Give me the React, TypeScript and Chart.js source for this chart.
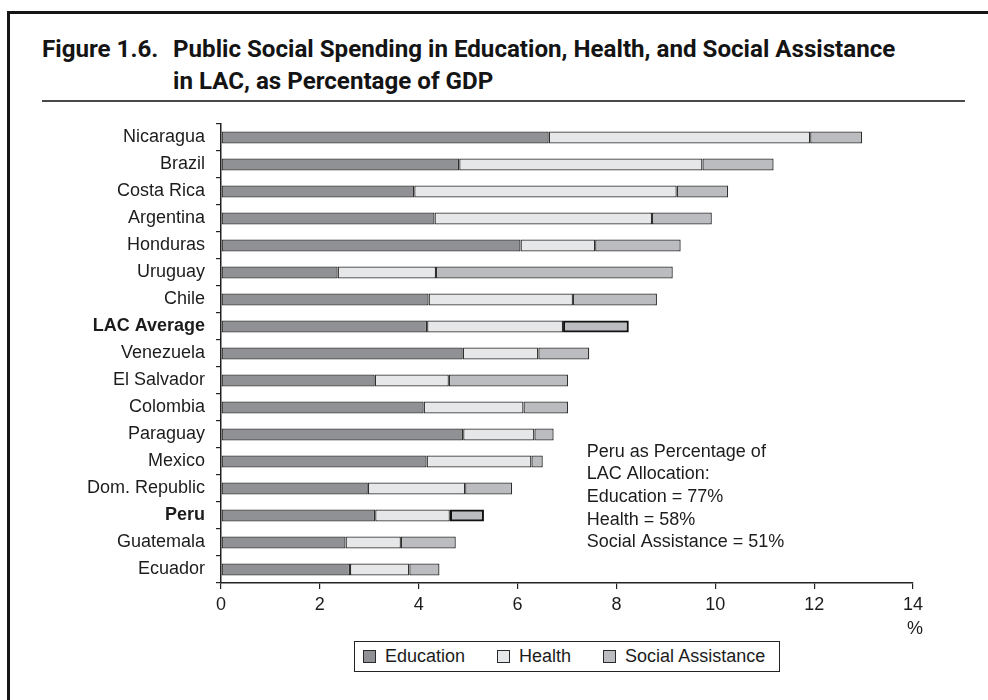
import React, { useEffect, useLayoutEffect, useRef } from "react";
import { Chart, registerables } from "chart.js";

Chart.register(...registerables);

// ---- data ----
const categories = [
  "Nicaragua", "Brazil", "Costa Rica", "Argentina", "Honduras", "Uruguay", "Chile",
  "LAC Average", "Venezuela", "El Salvador", "Colombia", "Paraguay", "Mexico",
  "Dom. Republic", "Peru", "Guatemala", "Ecuador",
];
const education = [6.63, 4.82, 3.91, 4.32, 6.06, 2.36, 4.2, 4.17, 4.89, 3.11, 4.1, 4.9, 4.16, 2.97, 3.12, 2.52, 2.61];
const health = [5.29, 4.92, 5.31, 4.4, 1.51, 1.99, 2.92, 2.75, 1.53, 1.5, 2.02, 1.44, 2.12, 1.97, 1.51, 1.12, 1.2];
const socialAssistance = [1.05, 1.44, 1.04, 1.21, 1.73, 4.79, 1.7, 1.33, 1.03, 2.41, 0.9, 0.39, 0.23, 0.95, 0.69, 1.11, 0.61];
const seriesNames = ["Education", "Health", "Social Assistance"];
const xTicks = [0, 2, 4, 6, 8, 10, 12, 14];
const boldCategories = ["LAC Average", "Peru"];
const noteLines = [
  "Peru as Percentage of",
  "LAC Allocation:",
  "Education = 77%",
  "Health = 58%",
  "Social Assistance = 51%",
];
const titleNumber = "Figure 1.6.";
const titleLine1 = "Public Social Spending in Education, Health, and Social Assistance";
const titleLine2 = "in LAC, as Percentage of GDP";
const unitLabel = "%";

// ---- styles ----
const seriesColors = ["#909194", "#e6e7e8", "#bbbcbf"];
const ink = "#1c1c1c";
const FONT = "'Liberation Sans', Arial, Helvetica, sans-serif";
const TITLE_FONT = "Roboto, 'Liberation Sans', sans-serif";

const overlayPlugin = {
  id: "overlayText",
  afterDraw(chart: any) {
    const ctx = chart.ctx;
    const xs = chart.scales.x;
    const area = chart.chartArea;
    ctx.save();
    ctx.fillStyle = ink;
    ctx.font = `18px ${FONT}`;
    ctx.textBaseline = "middle";
    ctx.textAlign = "left";
    const x0 = xs.getPixelForValue(7.4);
    noteLines.forEach((line, i) => {
      ctx.fillText(line, x0, area.top + 327.7 + i * 22.65);
    });
    ctx.textAlign = "center";
    ctx.fillText(unitLabel, xs.getPixelForValue(14) + 2, area.bottom + 46);
    ctx.restore();
  },
};

function ChartBox() {
  const ref = useRef<HTMLCanvasElement | null>(null);
  useEffect(() => {
    if (!ref.current) return;
    const isBold = (i: number) => boldCategories.includes(categories[i]);
    const seriesData = [education, health, socialAssistance];
    const chart = new Chart(ref.current, {
      type: "bar",
      data: {
        labels: categories,
        datasets: seriesData.map((d, k) => ({
          label: seriesNames[k],
          data: d,
          backgroundColor: seriesColors[k],
          borderColor: (c: any) => (isBold(c.dataIndex) && k === 2 ? "#111" : "#2e2e2e"),
          borderWidth: (c: any) => (isBold(c.dataIndex) && k === 2 ? 2.2 : 1.3),
          borderSkipped: false,
          barPercentage: 0.44,
          categoryPercentage: 1,
        })),
      },
      options: {
        indexAxis: "y",
        animation: false,
        responsive: false,
        maintainAspectRatio: false,
        devicePixelRatio: 1,
        layout: { padding: { left: 0, right: 75, top: 24, bottom: 0 } },
        plugins: {
          legend: { display: false },
          tooltip: { enabled: false },
          title: { display: false },
        },
        scales: {
          x: {
            stacked: true,
            min: 0,
            max: 14,
            afterBuildTicks: (s: any) => {
              s.ticks = xTicks.map((v) => ({ value: v }));
            },
            ticks: { font: { family: FONT, size: 18 }, color: ink, padding: 5, maxRotation: 0 },
            grid: { drawOnChartArea: false, drawTicks: true, tickLength: 6, color: "#222", lineWidth: 1.2 },
            border: { display: true, color: "#222", width: 1.5 },
            afterFit: (s: any) => {
              s.height = 57;
            },
          },
          y: {
            stacked: true,
            ticks: {
              font: (c: any) => ({
                family: FONT,
                size: 18,
                weight: isBold(c.index) ? "bold" : "normal",
              }),
              color: ink,
              padding: 11,
              autoSkip: false,
            },
            grid: { offset: true, drawOnChartArea: false, drawTicks: true, tickLength: 5, color: "#222", lineWidth: 1.2 },
            border: { display: true, color: "#222", width: 1.5 },
            afterFit: (s: any) => {
              s.width = 221;
            },
          },
        },
      } as any,
      plugins: [overlayPlugin],
    });
    return () => chart.destroy();
  }, []);
  return (
    <canvas
      ref={ref}
      width={988}
      height={540}
      style={{ position: "absolute", left: 0, top: 100, width: 988, height: 540 }}
    />
  );
}

export default function App() {
  const l1 = useRef<HTMLSpanElement | null>(null);
  const l0 = useRef<HTMLSpanElement | null>(null);
  const l2 = useRef<HTMLSpanElement | null>(null);
  useLayoutEffect(() => {
    if (!l1.current) return;
    const w = l1.current.offsetWidth;
    const k = 722 / w;
    [l0.current, l1.current, l2.current].forEach((el) => {
      if (el) el.style.transform = `scaleX(${k})`;
    });
  }, []);
  const titleSpan: React.CSSProperties = {
    position: "absolute",
    whiteSpace: "nowrap",
    display: "inline-block",
    transformOrigin: "left center",
    fontFamily: TITLE_FONT,
    fontWeight: 700,
    fontSize: 24,
    lineHeight: "32px",
    color: "#141414",
  };
  return (
    <div
      style={{
        position: "fixed",
        left: 0,
        top: 0,
        width: 988,
        height: 700,
        overflow: "hidden",
        background: "#fff",
      }}
    >
      {/* frame: top and left edges */}
      <div style={{ position: "absolute", left: 7, top: 11, width: 981, height: 2.5, background: "#151515" }} />
      <div style={{ position: "absolute", left: 7, top: 11, width: 2.5, height: 689, background: "#151515" }} />
      <span ref={l0} style={{ ...titleSpan, left: 42, top: 33 }}>
        {titleNumber}
      </span>
      <span ref={l1} style={{ ...titleSpan, left: 173, top: 33 }}>
        {titleLine1}
      </span>
      <span ref={l2} style={{ ...titleSpan, left: 173, top: 65 }}>
        {titleLine2}
      </span>
      <div
        style={{
          position: "absolute",
          left: 42,
          top: 100,
          width: 923,
          height: 2,
          background: "#4a4a4a",
        }}
      />
      <ChartBox />
      <div
        style={{
          position: "absolute",
          left: 354,
          top: 641,
          width: 426,
          height: 31,
          boxSizing: "border-box",
          border: "1.5px solid #222",
          display: "flex",
          alignItems: "center",
          paddingLeft: 8,
          fontFamily: FONT,
          fontSize: 18,
          color: ink,
          whiteSpace: "nowrap",
        }}
      >
        {seriesNames.map((n, k) => (
          <div
            key={n}
            style={{ display: "flex", alignItems: "center", marginRight: k < 2 ? 32 : 0, flexShrink: 0 }}
          >
            <span
              style={{
                display: "inline-block",
                width: 13,
                height: 13,
                boxSizing: "border-box",
                border: "1.5px solid #2a2a2a",
                background: seriesColors[k],
                marginRight: 9,
                flexShrink: 0,
              }}
            />
            <span style={{ whiteSpace: "nowrap" }}>{n}</span>
          </div>
        ))}
      </div>
    </div>
  );
}
